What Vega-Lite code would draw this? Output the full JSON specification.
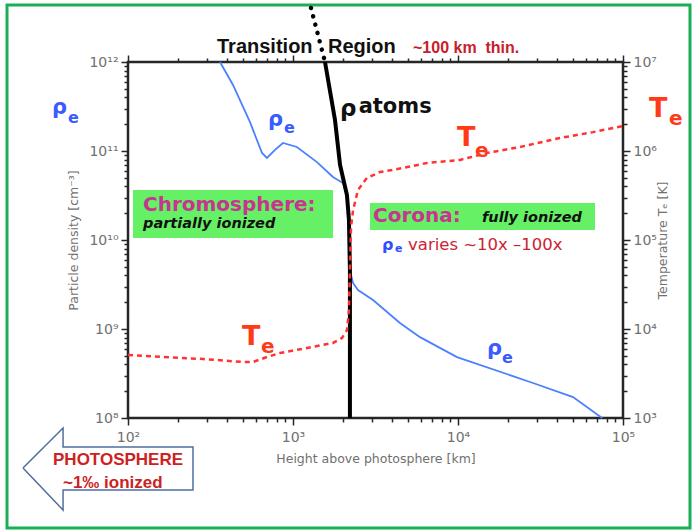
{
  "$schema": "https://vega.github.io/schema/vega-lite/v6.json",
  "width": 495,
  "height": 356,
  "autosize": {"type": "none"},
  "padding": {"left": 128, "top": 62, "right": 74, "bottom": 114},
  "background": "white",
  "config": {
    "view": {"stroke": "#262626", "strokeWidth": 2.5},
    "axis": {"domain": false, "grid": false, "tickColor": "#262626", "tickWidth": 1.5, "labelFont": "DejaVu Sans", "labelFontSize": 14, "labelColor": "#707070", "titleFont": "DejaVu Sans", "titleFontSize": 12.5, "titleFontWeight": "normal", "titleColor": "#707070", "labelOverlap": false, "labelFlush": false, "labelBound": false},
    "text": {"font": "DejaVu Sans"}
  },
  "datasets": {
    "rho": [
      {"x": 361, "y": 1e12}, {"x": 433, "y": 5.52e11}, {"x": 548, "y": 2.12e11}, {"x": 649, "y": 9.5e10}, {"x": 695, "y": 8.35e10}, {"x": 778, "y": 1.03e11}, {"x": 869, "y": 1.23e11}, {"x": 1056, "y": 1.11e11}, {"x": 1397, "y": 7.5e10}, {"x": 1746, "y": 5.1e10}, {"x": 2009, "y": 4.37e10}, {"x": 2123, "y": 3.2e10}, {"x": 2183, "y": 1.68e10}, {"x": 2213, "y": 4.6e9}, {"x": 2310, "y": 3.29e9}, {"x": 2477, "y": 2.74e9}, {"x": 3055, "y": 2.12e9}, {"x": 4449, "y": 1.17e9}, {"x": 5886, "y": 8.1e8}, {"x": 9860, "y": 4.84e8}, {"x": 28480, "y": 2.474e8}, {"x": 49800, "y": 1.72e8}, {"x": 74700, "y": 1e8}
    ],
    "atoms": [
      {"x": 1563, "y": 1e12}, {"x": 1797, "y": 2.23e11}, {"x": 1928, "y": 6.97e10}, {"x": 2123, "y": 3.2e10}, {"x": 2183, "y": 1.68e10}, {"x": 2213, "y": 4.6e9}, {"x": 2213, "y": 1e8}
    ],
    "atomsdot": [
      {"x": 1285, "y": 4.05e12}, {"x": 1418, "y": 2.01e12}, {"x": 1563, "y": 1e12}
    ],
    "te": [
      {"x": 100, "y": 5100}, {"x": 163, "y": 4840}, {"x": 285, "y": 4600}, {"x": 498, "y": 4260}, {"x": 572, "y": 4260}, {"x": 695, "y": 4840}, {"x": 834, "y": 5370}, {"x": 1216, "y": 6120}, {"x": 1746, "y": 6970}, {"x": 1981, "y": 7930}, {"x": 2125, "y": 9750}, {"x": 2183, "y": 16300}, {"x": 2213, "y": 46000}, {"x": 2248, "y": 140000}, {"x": 2312, "y": 217000}, {"x": 2478, "y": 365000}, {"x": 2808, "y": 498000}, {"x": 3366, "y": 581000}, {"x": 4036, "y": 612000}, {"x": 6486, "y": 733000}, {"x": 10280, "y": 793000}, {"x": 15000, "y": 950000}, {"x": 23800, "y": 1110000}, {"x": 41500, "y": 1400000}, {"x": 65800, "y": 1630000}, {"x": 100000, "y": 1910000}
    ],
    "border": [{"x": 18.48, "x2": 254700, "y": 4.36e12, "y2": 5.81e6}],
    "boxes": [
      {"x": 107.2, "x2": 1747, "y": 3.65e10, "y2": 1.053e10},
      {"x": 2929, "x2": 67660, "y": 2.61e10, "y2": 1.296e10}
    ],
    "arrow": [
      {"x": 23.1, "y": 2.74e7}, {"x": 40.4, "y": 7.73e7}, {"x": 40.4, "y": 4.72e7}, {"x": 247.7, "y": 4.72e7}, {"x": 247.7, "y": 1.553e7}, {"x": 40.4, "y": 1.553e7}, {"x": 40.4, "y": 9.25e6}, {"x": 23.1, "y": 2.74e7}
    ],
    "tTitle": [{"x": 346.3, "y": 1.262e12, "t": "Transition"}, {"x": 1630, "y": 1.262e12, "t": "Region"}],
    "tThin": [{"x": 5337, "y": 1.262e12, "t": "~100 km\u00a0 thin."}],
    "tRhoBlack": [{"x": 1930, "y": 2.5e11, "t": "ρ"}],
    "tAtoms": [{"x": 2500, "y": 2.673e11, "t": "atoms"}],
    "tMagenta": [{"x": 123.3, "y": 2.118e10, "t": "Chromosphere:"}, {"x": 3054, "y": 1.593e10, "t": "Corona:"}],
    "tItalic": [{"x": 123.3, "y": 1.364e10, "t": "partially ionized"}, {"x": 13980, "y": 1.593e10, "t": "fully ionized"}],
    "tVaries": [{"x": 4977, "y": 7.72e9, "t": "varies ~10x –100x"}],
    "tRhoSmall": [{"x": 3463, "y": 7.72e9, "t": "ρ"}],
    "tESmall": [{"x": 4152, "y": 7.33e9, "t": "e"}],
    "tPhoto": [{"x": 35.12, "y": 2.964e7, "t": "PHOTOSPHERE"}, {"x": 40.36, "y": 1.635e7, "t": "~1‰ ionized"}],
    "tRhoBlue": [{"x": 34.63, "y": 2.604e11, "t": "ρ"}, {"x": 705.6, "y": 1.909e11, "t": "ρ"}, {"x": 14990, "y": 5.104e8, "t": "ρ"}],
    "tEBlue": [{"x": 43.29, "y": 2.064e11, "t": "e"}, {"x": 882.2, "y": 1.593e11, "t": "e"}, {"x": 18480, "y": 4.15e8, "t": "e"}],
    "tT": [{"x": 143800, "y": 2.41e11, "t": "T"}, {"x": 9860, "y": 1.138e11, "t": "T"}, {"x": 490.9, "y": 6.61e8, "t": "T"}],
    "tERed": [{"x": 190000, "y": 1.959e11, "t": "e"}, {"x": 12680, "y": 8.56e10, "t": "e"}, {"x": 639.8, "y": 5.375e8, "t": "e"}]
  },
  "layer": [
    {
      "data": {"name": "rho"},
      "mark": {"type": "line", "stroke": "#4d80ff", "strokeWidth": 1.8},
      "encoding": {
        "x": {"field": "x", "type": "quantitative", "scale": {"type": "log", "domain": [100, 100000], "nice": false},
          "axis": {"orient": "bottom", "values": [100,200,300,400,500,600,700,800,900,1000,2000,3000,4000,5000,6000,7000,8000,9000,10000,20000,30000,40000,50000,60000,70000,80000,90000,100000],
            "labelExpr": "datum.value==100?'10²':datum.value==1000?'10³':datum.value==10000?'10⁴':datum.value==100000?'10⁵':''",
            "tickSize": {"condition": {"test": "indexof([100,1000,10000,100000],datum.value)>=0", "value": 7}, "value": 4},
            "labelPadding": 5, "title": "Height above photosphere [km]", "titlePadding": 8}},
        "y": {"field": "y", "type": "quantitative", "scale": {"type": "log", "domain": [1e8, 1e12], "nice": false},
          "axis": {"orient": "left", "values": [1e8,2e8,3e8,4e8,5e8,6e8,7e8,8e8,9e8,1e9,2e9,3e9,4e9,5e9,6e9,7e9,8e9,9e9,1e10,2e10,3e10,4e10,5e10,6e10,7e10,8e10,9e10,1e11,2e11,3e11,4e11,5e11,6e11,7e11,8e11,9e11,1e12],
            "labelExpr": "datum.value==1e8?'10⁸':datum.value==1e9?'10⁹':datum.value==1e10?'10¹⁰':datum.value==1e11?'10¹¹':datum.value==1e12?'10¹²':''",
            "tickSize": {"condition": {"test": "indexof([1e8,1e9,1e10,1e11,1e12],datum.value)>=0", "value": 7}, "value": 4},
            "labelPadding": 3, "title": "Particle density [cm⁻³]", "titlePadding": 8}},
        "order": {"value": null}
      }
    },
    {
      "data": {"name": "border"},
      "mark": {"type": "rect", "fill": "transparent", "stroke": "#1aaf54", "strokeWidth": 3},
      "encoding": {
        "x": {"field": "x", "type": "quantitative", "scale": {"type": "log", "domain": [100, 100000], "nice": false}, "axis": null},
        "x2": {"field": "x2"},
        "y": {"field": "y", "type": "quantitative", "scale": {"type": "log", "domain": [1e8, 1e12], "nice": false}, "axis": null},
        "y2": {"field": "y2"}
      }
    },
    {
      "data": {"name": "boxes"},
      "mark": {"type": "rect", "fill": "#66f066"},
      "encoding": {
        "x": {"field": "x", "type": "quantitative", "scale": {"type": "log", "domain": [100, 100000], "nice": false}, "axis": null},
        "x2": {"field": "x2"},
        "y": {"field": "y", "type": "quantitative", "scale": {"type": "log", "domain": [1e8, 1e12], "nice": false}, "axis": null},
        "y2": {"field": "y2"}
      }
    },
    {
      "data": {"name": "arrow"},
      "mark": {"type": "line", "stroke": "#4f6fa0", "strokeWidth": 1.5},
      "encoding": {
        "x": {"field": "x", "type": "quantitative", "scale": {"type": "log", "domain": [100, 100000], "nice": false}, "axis": null},
        "y": {"field": "y", "type": "quantitative", "scale": {"type": "log", "domain": [1e8, 1e12], "nice": false}, "axis": null},
        "order": {"value": null}
      }
    },
    {
      "data": {"name": "atoms"},
      "mark": {"type": "line", "stroke": "#000000", "strokeWidth": 4},
      "encoding": {
        "x": {"field": "x", "type": "quantitative", "scale": {"type": "log", "domain": [100, 100000], "nice": false}, "axis": null},
        "y": {"field": "y", "type": "quantitative", "scale": {"type": "log", "domain": [1e8, 1e12], "nice": false}, "axis": null},
        "order": {"value": null}
      }
    },
    {
      "data": {"name": "atomsdot"},
      "mark": {"type": "line", "stroke": "#000000", "strokeWidth": 4.5, "strokeDash": [0.1, 8.5], "strokeCap": "round"},
      "encoding": {
        "x": {"field": "x", "type": "quantitative", "scale": {"type": "log", "domain": [100, 100000], "nice": false}, "axis": null},
        "y": {"field": "y", "type": "quantitative", "scale": {"type": "log", "domain": [1e8, 1e12], "nice": false}, "axis": null},
        "order": {"value": null}
      }
    },
    {
      "data": {"name": "te"},
      "mark": {"type": "line", "stroke": "#ff3333", "strokeWidth": 2.5, "strokeDash": [5, 4]},
      "encoding": {
        "x": {"field": "x", "type": "quantitative", "scale": {"type": "log", "domain": [100, 100000], "nice": false},
          "axis": {"orient": "top", "values": [100,200,300,400,500,600,700,800,900,1000,2000,3000,4000,5000,6000,7000,8000,9000,10000,20000,30000,40000,50000,60000,70000,80000,90000,100000],
            "labels": false, "title": null,
            "tickSize": {"condition": {"test": "indexof([100,1000,10000,100000],datum.value)>=0", "value": 7}, "value": 4}}},
        "y": {"field": "y", "type": "quantitative", "scale": {"type": "log", "domain": [1000, 10000000], "nice": false},
          "axis": {"orient": "right", "values": [1e3,2e3,3e3,4e3,5e3,6e3,7e3,8e3,9e3,1e4,2e4,3e4,4e4,5e4,6e4,7e4,8e4,9e4,1e5,2e5,3e5,4e5,5e5,6e5,7e5,8e5,9e5,1e6,2e6,3e6,4e6,5e6,6e6,7e6,8e6,9e6,1e7],
            "labelExpr": "datum.value==1e3?'10³':datum.value==1e4?'10⁴':datum.value==1e5?'10⁵':datum.value==1e6?'10⁶':datum.value==1e7?'10⁷':''",
            "tickSize": {"condition": {"test": "indexof([1e3,1e4,1e5,1e6,1e7],datum.value)>=0", "value": 7}, "value": 4},
            "labelPadding": 3, "title": "Temperature Tₑ [K]", "titleAngle": 270, "titleBaseline": "top", "titlePadding": 0}},
        "order": {"value": null}
      }
    },
    {
      "data": {"name": "tTitle"},
      "mark": {"type": "text", "align": "left", "baseline": "alphabetic", "font": "Liberation Sans", "fontWeight": "bold", "fontSize": 20, "color": "#111111"},
      "encoding": {
        "x": {"field": "x", "type": "quantitative", "scale": {"type": "log", "domain": [100, 100000], "nice": false}, "axis": null},
        "y": {"field": "y", "type": "quantitative", "scale": {"type": "log", "domain": [1e8, 1e12], "nice": false}, "axis": null},
        "text": {"field": "t"}
      }
    },
    {
      "data": {"name": "tThin"},
      "mark": {"type": "text", "align": "left", "baseline": "alphabetic", "font": "Liberation Sans", "fontWeight": "bold", "fontSize": 16, "color": "#c8202c"},
      "encoding": {
        "x": {"field": "x", "type": "quantitative", "scale": {"type": "log", "domain": [100, 100000], "nice": false}, "axis": null},
        "y": {"field": "y", "type": "quantitative", "scale": {"type": "log", "domain": [1e8, 1e12], "nice": false}, "axis": null},
        "text": {"field": "t"}
      }
    },
    {
      "data": {"name": "tRhoBlack"},
      "mark": {"type": "text", "align": "left", "baseline": "alphabetic", "fontWeight": "bold", "fontSize": 23, "color": "#111111"},
      "encoding": {
        "x": {"field": "x", "type": "quantitative", "scale": {"type": "log", "domain": [100, 100000], "nice": false}, "axis": null},
        "y": {"field": "y", "type": "quantitative", "scale": {"type": "log", "domain": [1e8, 1e12], "nice": false}, "axis": null},
        "text": {"field": "t"}
      }
    },
    {
      "data": {"name": "tAtoms"},
      "mark": {"type": "text", "align": "left", "baseline": "alphabetic", "fontWeight": "bold", "fontSize": 21, "color": "#111111"},
      "encoding": {
        "x": {"field": "x", "type": "quantitative", "scale": {"type": "log", "domain": [100, 100000], "nice": false}, "axis": null},
        "y": {"field": "y", "type": "quantitative", "scale": {"type": "log", "domain": [1e8, 1e12], "nice": false}, "axis": null},
        "text": {"field": "t"}
      }
    },
    {
      "data": {"name": "tMagenta"},
      "mark": {"type": "text", "align": "left", "baseline": "alphabetic", "fontSize": 20, "fontWeight": "bold", "color": "#c8348f"},
      "encoding": {
        "x": {"field": "x", "type": "quantitative", "scale": {"type": "log", "domain": [100, 100000], "nice": false}, "axis": null},
        "y": {"field": "y", "type": "quantitative", "scale": {"type": "log", "domain": [1e8, 1e12], "nice": false}, "axis": null},
        "text": {"field": "t"}
      }
    },
    {
      "data": {"name": "tItalic"},
      "mark": {"type": "text", "align": "left", "baseline": "alphabetic", "fontSize": 14.5, "fontWeight": "bold", "fontStyle": "italic", "color": "#111111"},
      "encoding": {
        "x": {"field": "x", "type": "quantitative", "scale": {"type": "log", "domain": [100, 100000], "nice": false}, "axis": null},
        "y": {"field": "y", "type": "quantitative", "scale": {"type": "log", "domain": [1e8, 1e12], "nice": false}, "axis": null},
        "text": {"field": "t"}
      }
    },
    {
      "data": {"name": "tVaries"},
      "mark": {"type": "text", "align": "left", "baseline": "alphabetic", "fontSize": 16.5, "color": "#cc2233"},
      "encoding": {
        "x": {"field": "x", "type": "quantitative", "scale": {"type": "log", "domain": [100, 100000], "nice": false}, "axis": null},
        "y": {"field": "y", "type": "quantitative", "scale": {"type": "log", "domain": [1e8, 1e12], "nice": false}, "axis": null},
        "text": {"field": "t"}
      }
    },
    {
      "data": {"name": "tRhoSmall"},
      "mark": {"type": "text", "align": "left", "baseline": "alphabetic", "fontSize": 16, "fontWeight": "bold", "color": "#2f4fff"},
      "encoding": {
        "x": {"field": "x", "type": "quantitative", "scale": {"type": "log", "domain": [100, 100000], "nice": false}, "axis": null},
        "y": {"field": "y", "type": "quantitative", "scale": {"type": "log", "domain": [1e8, 1e12], "nice": false}, "axis": null},
        "text": {"field": "t"}
      }
    },
    {
      "data": {"name": "tESmall"},
      "mark": {"type": "text", "align": "left", "baseline": "alphabetic", "fontSize": 11, "fontWeight": "bold", "color": "#2f4fff"},
      "encoding": {
        "x": {"field": "x", "type": "quantitative", "scale": {"type": "log", "domain": [100, 100000], "nice": false}, "axis": null},
        "y": {"field": "y", "type": "quantitative", "scale": {"type": "log", "domain": [1e8, 1e12], "nice": false}, "axis": null},
        "text": {"field": "t"}
      }
    },
    {
      "data": {"name": "tPhoto"},
      "mark": {"type": "text", "align": "left", "baseline": "alphabetic", "font": "Liberation Sans", "fontSize": 17, "fontWeight": "bold", "color": "#cc2222"},
      "encoding": {
        "x": {"field": "x", "type": "quantitative", "scale": {"type": "log", "domain": [100, 100000], "nice": false}, "axis": null},
        "y": {"field": "y", "type": "quantitative", "scale": {"type": "log", "domain": [1e8, 1e12], "nice": false}, "axis": null},
        "text": {"field": "t"}
      }
    },
    {
      "data": {"name": "tRhoBlue"},
      "mark": {"type": "text", "align": "left", "baseline": "alphabetic", "fontSize": 21, "fontWeight": "bold", "color": "#3a5cff"},
      "encoding": {
        "x": {"field": "x", "type": "quantitative", "scale": {"type": "log", "domain": [100, 100000], "nice": false}, "axis": null},
        "y": {"field": "y", "type": "quantitative", "scale": {"type": "log", "domain": [1e8, 1e12], "nice": false}, "axis": null},
        "text": {"field": "t"}
      }
    },
    {
      "data": {"name": "tEBlue"},
      "mark": {"type": "text", "align": "left", "baseline": "alphabetic", "fontSize": 16, "fontWeight": "bold", "color": "#3a5cff"},
      "encoding": {
        "x": {"field": "x", "type": "quantitative", "scale": {"type": "log", "domain": [100, 100000], "nice": false}, "axis": null},
        "y": {"field": "y", "type": "quantitative", "scale": {"type": "log", "domain": [1e8, 1e12], "nice": false}, "axis": null},
        "text": {"field": "t"}
      }
    },
    {
      "data": {"name": "tT"},
      "mark": {"type": "text", "align": "left", "baseline": "alphabetic", "fontSize": 27, "fontWeight": "bold", "color": "#ff3a17"},
      "encoding": {
        "x": {"field": "x", "type": "quantitative", "scale": {"type": "log", "domain": [100, 100000], "nice": false}, "axis": null},
        "y": {"field": "y", "type": "quantitative", "scale": {"type": "log", "domain": [1e8, 1e12], "nice": false}, "axis": null},
        "text": {"field": "t"}
      }
    },
    {
      "data": {"name": "tERed"},
      "mark": {"type": "text", "align": "left", "baseline": "alphabetic", "fontSize": 20, "fontWeight": "bold", "color": "#ff3a17"},
      "encoding": {
        "x": {"field": "x", "type": "quantitative", "scale": {"type": "log", "domain": [100, 100000], "nice": false}, "axis": null},
        "y": {"field": "y", "type": "quantitative", "scale": {"type": "log", "domain": [1e8, 1e12], "nice": false}, "axis": null},
        "text": {"field": "t"}
      }
    }
  ],
  "resolve": {"scale": {"y": "independent"}, "axis": {"x": "independent", "y": "independent"}}
}
